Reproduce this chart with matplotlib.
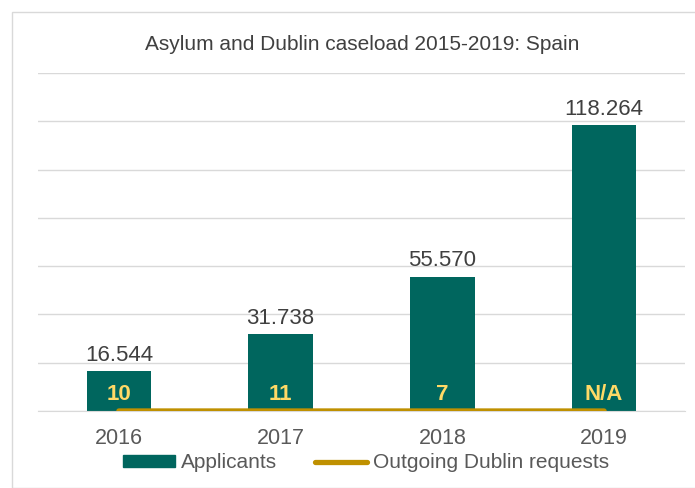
import matplotlib
matplotlib.use("Agg")
import matplotlib.pyplot as plt
from matplotlib.patches import Rectangle
from matplotlib.lines import Line2D

years = ["2016", "2017", "2018", "2019"]
applicants = [16544, 31738, 55570, 118264]
applicant_labels = ["16.544", "31.738", "55.570", "118.264"]
dublin = [10, 11, 7, 0]
dublin_labels = ["10", "11", "7", "N/A"]

plt.rcParams['font.family'] = ['Liberation Sans', 'DejaVu Sans']

teal = "#00665E"
gold = "#BF9000"
fig = plt.figure(figsize=(6.95, 4.88), dpi=100)
fig.patches.append(Rectangle((12/695, 0), 1, 1 - 12/488, transform=fig.transFigure,
                             fill=False, edgecolor="#D9D9D9", linewidth=1.0))
ax = fig.add_axes([38/695, (488-411)/488, (685-38)/695, (411-73)/488])
x = list(range(len(years)))
ax.bar(x, applicants, width=0.4, color=teal, zorder=2)
ax.plot(x, dublin, color=gold, linewidth=3.8, solid_capstyle='round', zorder=3)
ax.set_xlim(-0.5, 3.5)
ax.set_ylim(0, 140000)
ax.set_yticks(range(0, 140001, 20000))
ax.yaxis.grid(True, color="#D9D9D9", linewidth=1.0, zorder=0)
ax.tick_params(axis='y', left=False, labelleft=False)
ax.set_xticks(x)
ax.set_xticklabels(years, fontsize=15.5, color="#595959")
ax.tick_params(axis='x', length=0, pad=12)
for s in ["top", "right", "left"]:
    ax.spines[s].set_visible(False)
ax.spines["bottom"].set_color("#D9D9D9")

for xi, v, lab in zip(x, applicants, applicant_labels):
    ax.annotate(lab, (xi, v), xytext=(0, 4), textcoords="offset points",
                ha="center", va="bottom", fontsize=16, color="#404040")
for xi, lab in zip(x, dublin_labels):
    ax.annotate(lab, (xi, 0), xytext=(0, 12), textcoords="offset points",
                ha="center", va="center", fontsize=16, color="#FFD966",
                fontweight="bold", zorder=4)

fig.text(362/695, 1 - 45/488, "Asylum and Dublin caseload 2015-2019: Spain",
         ha="center", va="center", fontsize=15, color="#404040")

handles = [Rectangle((0, 0), 1, 1, color=teal),
           Line2D([0], [0], color=gold, linewidth=3.8, solid_capstyle='round')]
fig.legend(handles, ["Applicants", "Outgoing Dublin requests"], loc="center",
           bbox_to_anchor=(366/695, 1 - 463/488), ncol=2, frameon=False,
           fontsize=15, labelcolor="#595959", handlelength=2.5,
           handleheight=0.55, columnspacing=1.8, handletextpad=0.3)

fig.savefig("out.png", dpi=100)
